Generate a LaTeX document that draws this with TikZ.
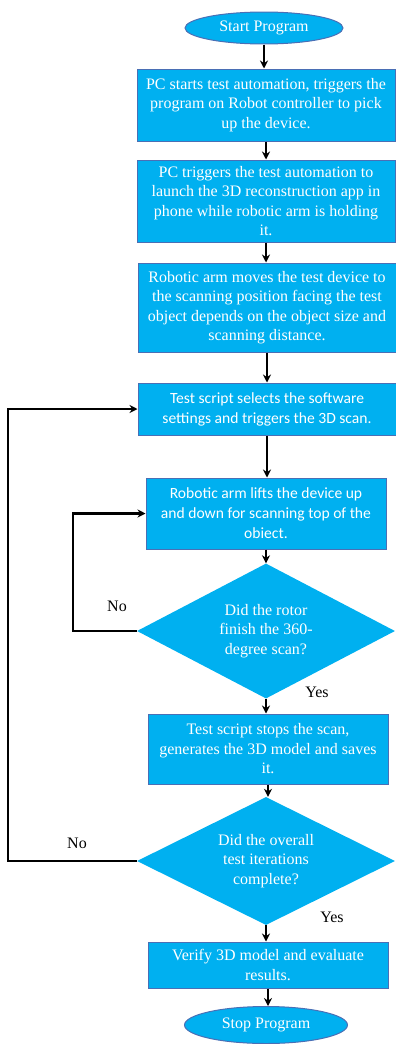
\documentclass[tikz,border=0pt]{standalone}
\usepackage{fontspec}
\setmainfont{Liberation Serif}
\newfontfamily\calib{Carlito}
\usetikzlibrary{shapes.geometric,arrows.meta}
\definecolor{fillc}{HTML}{00B0F0}
\definecolor{edgec}{HTML}{4A6FB5}
\tikzset{
  x=1pt, y=-1pt,
  every node/.style={font=\fontsize{16}{19.5}\selectfont},
  boxnode/.style={draw=edgec, line width=1pt, fill=fillc, text=white, align=center, inner sep=0pt},
  ovalnode/.style={ellipse, draw=edgec, line width=1pt, fill=fillc, text=white, inner sep=0pt},
  decnode/.style={diamond, fill=fillc, text=white, align=center, inner sep=0pt, aspect=2},
  arr/.style={line width=2.3pt, -{Stealth[length=8pt,width=8pt]}},
  lbl/.style={text=black}
}
\begin{document}
\begin{tikzpicture}
\useasboundingbox (0,0) rectangle (396,1044);
\node[ovalnode, minimum width=158, minimum height=32] (start) at (264,28) {Start Program};
\node[boxnode, minimum width=258, minimum height=72] (b1) at (266,105) {PC starts test automation, triggers the\\program on Robot controller to pick\\up the device.};
\node[boxnode, minimum width=258, minimum height=82] (b2) at (266,201) {PC triggers the test automation to\\launch the 3D reconstruction app in\\phone while robotic arm is holding\\it.};
\node[boxnode, minimum width=258, minimum height=89] (b3) at (267,307.5) {Robotic arm moves the test device to\\the scanning position facing the test\\object depends on the object size and\\scanning distance.};
\node[boxnode, minimum width=258, minimum height=52, font=\calib\fontsize{15.6}{20}\selectfont] (b4) at (267,409) {Test script selects the software\\settings and triggers the 3D scan.};
\node[boxnode, minimum width=240, minimum height=71, font=\calib\fontsize{15.6}{20}\selectfont] (b5) at (266,513.5) {Robotic arm lifts the device up\\and down for scanning top of the\\obiect.};
\node[decnode, minimum width=258, minimum height=135] (d1) at (266,631) {Did the rotor\\finish the 360-\\degree scan?};
\node[boxnode, minimum width=240, minimum height=70] (b6) at (268,749) {Test script stops the scan,\\generates the 3D model and saves\\it.};
\node[decnode, minimum width=258, minimum height=128] (d2) at (266,861) {Did the overall\\test iterations\\complete?};
\node[boxnode, minimum width=240, minimum height=46] (b7) at (268,965) {Verify 3D model and evaluate\\results.};
\node[ovalnode, minimum width=163, minimum height=37] (stop) at (266,1025) {Stop Program};

\coordinate (l1) at (73,631);
\coordinate (l2) at (8,861);

\draw[arr] (start.south) -- (start.south |- b1.north);
\draw[arr] (b1.south) -- (b1.south |- b2.north);
\draw[arr] (b2.south) -- (b2.south |- b3.north);
\draw[arr] (b3.south) -- (b3.south |- b4.north);
\draw[arr] (b4.south) -- (b4.south |- b5.north);
\draw[arr] (b5.south) -- (b5.south |- d1.north);
\draw[arr] (d1.south) -- (d1.south |- b6.north);
\draw[arr] (b6.south) -- (b6.south |- d2.north);
\draw[arr] (d2.south) -- (d2.south |- b7.north);
\draw[arr] (b7.south) -- (b7.south |- stop.north);
\draw[arr] (d1.west) -- (l1) |- (b5.west);
\draw[arr] (d2.west) -- (l2) |- (b4.west);

\node[lbl] (no1) at (117,606) {No};
\node[lbl] (yes1) at (317,692) {Yes};
\node[lbl] (no2) at (77,843) {No};
\node[lbl] (yes2) at (332,917) {Yes};
\end{tikzpicture}
\end{document}
